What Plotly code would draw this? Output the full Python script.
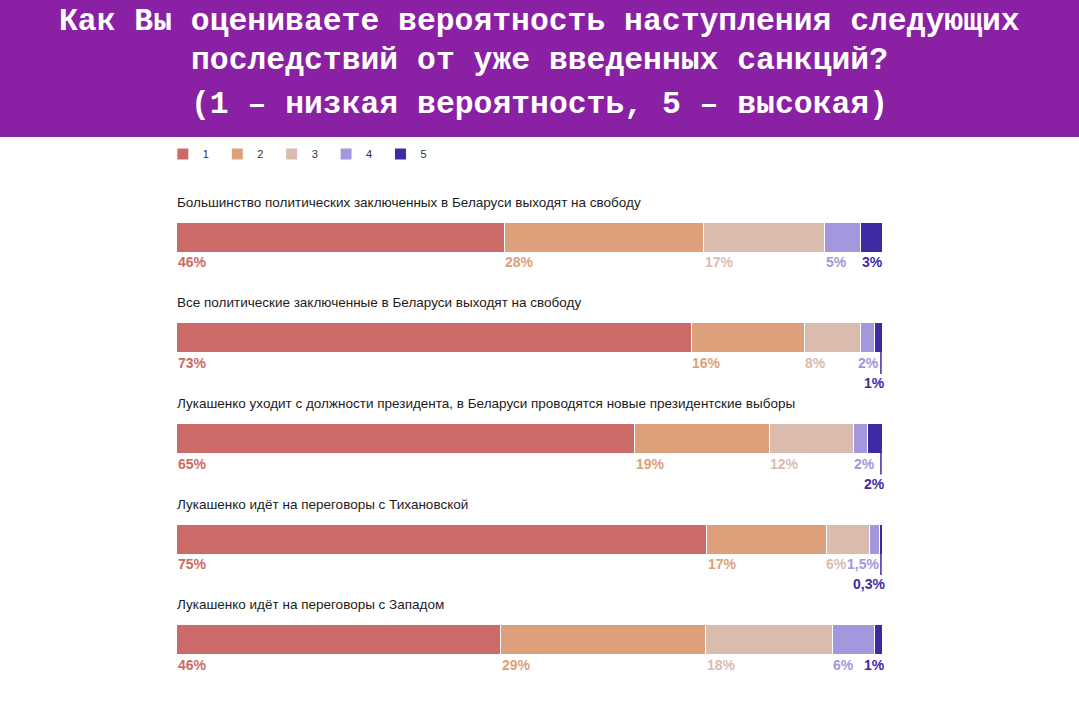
"""Stacked 100% bars: perceived likelihood of sanction outcomes."""

import plotly.graph_objects as go

TITLE_LINES = [
    "Как Вы оцениваете вероятность наступления следующих",
    "последствий от уже введенных санкций?",
    "(1 – низкая вероятность, 5 – высокая)",
]
QUESTIONS = [
    "Большинство политических заключенных в Беларуси выходят на свободу",
    "Все политические заключенные в Беларуси выходят на свободу",
    "Лукашенко уходит с должности президента, в Беларуси проводятся новые президентские выборы",
    "Лукашенко идёт на переговоры с Тихановской",
    "Лукашенко идёт на переговоры с Западом",
]
SCORES = ["1", "2", "3", "4", "5"]
SCORE_1 = [46, 73, 65, 75, 46]
SCORE_2 = [28, 16, 19, 17, 29]
SCORE_3 = [17, 8, 12, 6, 18]
SCORE_4 = [5, 2, 2, 1.5, 6]
SCORE_5 = [3, 1, 2, 0.3, 1]
SERIES = [SCORE_1, SCORE_2, SCORE_3, SCORE_4, SCORE_5]
COLORS = ["#cb6a66", "#dca07a", "#d9bcae", "#a397de", "#3d2ba6"]

WIDTH, HEIGHT = 1079, 704
LEFT, RIGHT, TOP, BOTTOM = 176, 197, 187, 14
PLOT_W = WIDTH - LEFT - RIGHT
PLOT_H = HEIGHT - TOP - BOTTOM
FONT = "Liberation Sans"
TITLE_Y = [21, 61, 104]  # pixel rows of the three header lines
LEADER_X = 99.85

# labels that do not fit under their own segment: (row, score index) -> placement
TIGHT_LABELS = {
    (1, 3): dict(xanchor="right", xshift=-1),
    (1, 4): dict(xanchor="right", xshift=5, yshift=-45, leader=True),
    (2, 3): dict(xanchor="right", xshift=-5),
    (2, 4): dict(xanchor="right", xshift=5, yshift=-45, leader=True),
    (3, 2): dict(xanchor="left", xshift=-3),
    (3, 3): dict(xanchor="right", xshift=-1),
    (3, 4): dict(xanchor="right", xshift=5, yshift=-45, leader=True),
    (4, 3): dict(xanchor="left", xshift=-2),
    (4, 4): dict(xanchor="right", xshift=5),
}


def paper_y(px: float) -> float:
    return (HEIGHT - BOTTOM - px) / PLOT_H


def pct_label(value: float) -> str:
    return f"{value:g}%".replace(".", ",")


def build_figure() -> go.Figure:
    fig = go.Figure()
    for score, values, color in zip(SCORES, SERIES, COLORS):
        fig.add_trace(
            go.Bar(
                y=QUESTIONS,
                x=values,
                name=score,
                orientation="h",
                marker=dict(color=color, line=dict(color="white", width=1)),
                hovertemplate="%{y}<br>" + score + ": %{x}%<extra></extra>",
            )
        )

    # violet header band behind the title
    fig.add_shape(
        type="rect",
        xref="paper",
        yref="paper",
        x0=-LEFT / PLOT_W,
        x1=(WIDTH - LEFT) / PLOT_W,
        y0=paper_y(137),
        y1=paper_y(0),
        fillcolor="#8a20a3",
        line_width=0,
        layer="below",
    )
    for line, y in zip(TITLE_LINES, TITLE_Y):
        fig.add_annotation(
            x=(WIDTH / 2 - LEFT) / PLOT_W,
            y=paper_y(y),
            xref="paper",
            yref="paper",
            xanchor="center",
            yanchor="middle",
            text=line,
            showarrow=False,
            font=dict(family="Liberation Mono", size=31.4, color="white", weight="bold"),
        )

    for row, question in enumerate(QUESTIONS):
        fig.add_annotation(
            x=0,
            y=question,
            xref="paper",
            yref="y",
            text=question,
            showarrow=False,
            xanchor="left",
            xshift=-1,
            yshift=35,
            font=dict(family=FONT, size=13.5, color="#1c1c1c"),
        )
        total = sum(values[row] for values in SERIES)
        start = 0.0
        for i, values in enumerate(SERIES):
            tight = TIGHT_LABELS.get((row, i), {})
            anchor = tight.get("xanchor", "left")
            fig.add_annotation(
                x=100 if anchor == "right" else start,
                y=question,
                text=pct_label(values[row]),
                showarrow=False,
                xanchor=anchor,
                xshift=tight.get("xshift", -1 if i > 0 else 0),
                yshift=tight.get("yshift", -25),
                font=dict(family=FONT, size=14, color=COLORS[i], weight="bold"),
            )
            if tight.get("leader"):
                fig.add_shape(
                    type="line",
                    xref="x",
                    yref="y",
                    x0=LEADER_X,
                    x1=LEADER_X,
                    ysizemode="pixel",
                    yanchor=question,
                    y0=14,
                    y1=-36,
                    line=dict(color=COLORS[i], width=1.5),
                )
            start += values[row] / total * 100

    fig.update_layout(
        width=WIDTH,
        height=HEIGHT,
        margin=dict(l=LEFT, r=RIGHT, t=TOP, b=BOTTOM),
        paper_bgcolor="white",
        plot_bgcolor="white",
        barmode="stack",
        barnorm="percent",
        bargap=0.70,
        showlegend=True,
        legend=dict(
            orientation="h",
            x=-0.0186,
            xanchor="left",
            y=paper_y(154),
            yanchor="middle",
            entrywidth=9.4,
            entrywidthmode="pixels",
            traceorder="normal",
            font=dict(family=FONT, size=11, color="#333333"),
            bgcolor="rgba(0,0,0,0)",
        ),
        xaxis=dict(visible=False, range=[0, 100], fixedrange=True),
        yaxis=dict(visible=False, autorange="reversed", fixedrange=True),
    )
    return fig


fig = build_figure()
fig.write_html(
    "out.html",
    config=dict(displayModeBar=False),
    post_script="document.body.style.margin = '0';",
)
